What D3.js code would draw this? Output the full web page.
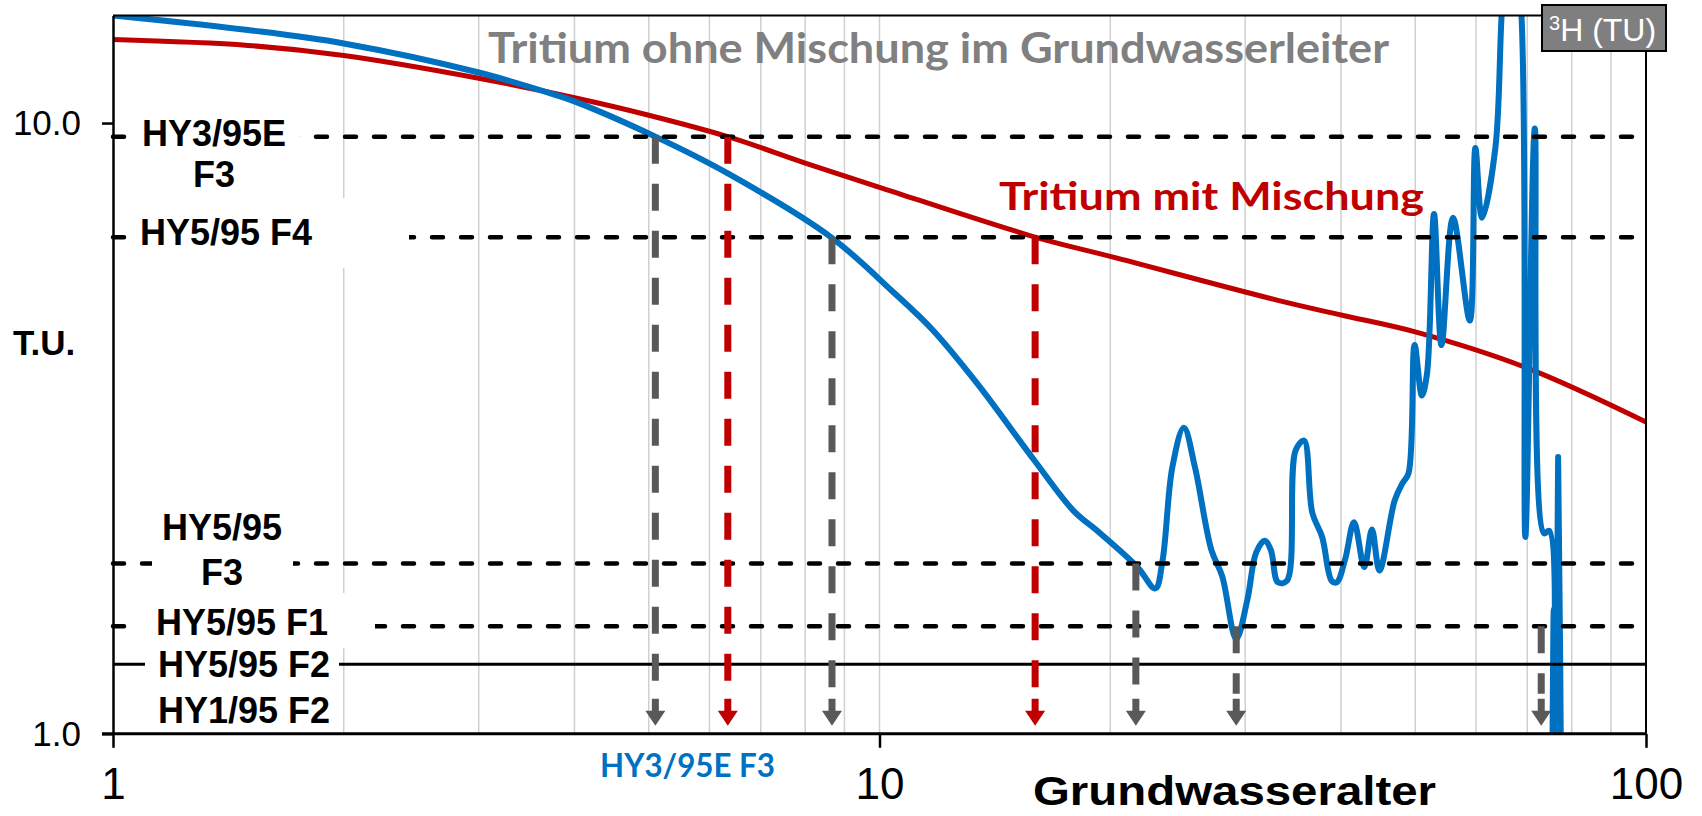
<!DOCTYPE html>
<html>
<head>
<meta charset="utf-8">
<script src="https://cdn.jsdelivr.net/npm/d3@7"></script>
<style>
  body { margin: 0; background: #fff; }
  svg text { font-family: "Liberation Sans", Arial, sans-serif; }
</style>
</head>
<body>
<div id="chart"></div>
<script>
// Tritium ohne Mischung im Grundwasserleiter (blue)
var ohneAge = [1, 1.5, 2, 3, 3.75, 4, 5.1, 6.34, 8.65, 10.4, 11.7, 13.4, 15.9, 17.9, 19.4,
  21.7, 22.9, 23.4, 24.1, 24.95, 25.8, 27.1, 28.0, 29.2, 30.2, 31.0, 31.8, 32.4, 33.1, 34.0,
  34.9, 35.8, 36.7, 37.8, 38.9, 39.5, 40.5, 41.6, 42.9, 43.9, 44.9, 47.0, 48.1, 49.0, 49.9,
  51.0, 51.8, 52.9, 54.1, 56.0, 58.9, 59.9, 61.1, 63.6, 64.9, 66.5, 68.7, 69.6, 71.6, 73.6,
  74.8, 75.3, 75.8, 76.2, 76.8, 77.6];
var ohneTU = [15.0, 14.2, 13.5, 12.1, 11.15, 10.85, 9.5, 8.27, 6.5, 5.3, 4.6, 3.75, 2.81, 2.32, 2.13,
  1.875, 1.73, 1.92, 2.73, 3.17, 2.73, 2.0, 1.81, 1.43, 1.66, 1.98, 2.07, 2.0, 1.77, 1.78,
  2.91, 3.02, 2.30, 2.10, 1.78, 1.77, 1.93, 2.22, 1.875, 2.16, 1.85, 2.41, 2.57, 2.67, 4.33,
  3.58, 3.89, 7.1, 4.33, 7.0, 4.75, 9.1, 7.0, 9.1, 15.5, 22, 15.5, 2.10, 9.8, 2.13,
  2.15, 0.7, 1.6, 0.7, 2.84, 0.6];

// Tritium mit Mischung (red)
var mitAge = [1, 1.5, 2, 3, 4, 5, 6.34, 8, 10, 16, 20, 33, 40, 50, 70, 100];
var mitTU = [13.7, 13.4, 12.9, 11.84, 11.0, 10.3, 9.5, 8.6, 7.85, 6.5, 6.05, 5.13, 4.85, 4.55, 3.97, 3.24];

var ageTicks = [1, 10, 100];
var tuTicks = [1, 10];

// Proben (horizontal lines)
var probeNames = ["HY3/95E F3", "HY5/95 F4", "HY5/95 F3", "HY5/95 F1", "HY5/95 F2", "HY1/95 F2"];
var probeTU = [9.5, 6.5, 1.9, 1.5, 1.3, 1.0];
var probeSolid = [false, false, false, false, true, false];

// Ablese-Pfeile
var arrowAge = [5.1, 6.34, 8.67, 15.96, 21.6, 29.2, 73.0];
var arrowTU = [9.5, 9.5, 6.5, 6.5, 1.9, 1.5, 1.5];
var arrowModel = ["ohne", "mit", "ohne", "mit", "ohne", "ohne", "ohne"];

var width = 1702, height = 816;
var plotL = 113, plotR = 1646, plotT = 15.5, plotB = 733.8;

var blue = "#0070c0", red = "#c00000", grey = "#595959";

var svg = d3.select("#chart").append("svg")
  .attr("width", width).attr("height", height);

var x = d3.scaleLog().domain([1, 100]).range([plotL, plotR]);
var y = d3.scaleLog().domain([1, 15]).range([plotB, plotT]);

svg.append("clipPath").attr("id", "plot")
  .append("rect").attr("x", plotL).attr("y", plotT)
  .attr("width", plotR - plotL).attr("height", plotB - plotT);

// vertical grid
var grid = x.ticks().filter(function(d) { return d > 1 && d < 100; });
svg.append("g").selectAll("line").data(grid).enter().append("line")
  .attr("x1", function(d) { return x(d); }).attr("x2", function(d) { return x(d); })
  .attr("y1", plotT).attr("y2", plotB)
  .attr("stroke", "#d0d0d0").attr("stroke-width", 1.5);

// curves
var line = d3.line()
  .x(function(d) { return x(d[0]); })
  .y(function(d) { return y(d[1]); })
  .curve(d3.curveCatmullRom.alpha(0.5));

var curves = svg.append("g").attr("clip-path", "url(#plot)");
curves.append("path")
  .datum(d3.zip(mitAge, mitTU))
  .attr("d", line).attr("fill", "none")
  .attr("stroke", red).attr("stroke-width", 5);
curves.append("path")
  .datum(d3.zip(ohneAge, ohneTU))
  .attr("d", line).attr("fill", "none")
  .attr("stroke", blue).attr("stroke-width", 6).attr("stroke-linejoin", "round");

// horizontal probe lines
var probes = d3.range(probeNames.length).filter(function(i) { return probeTU[i] > 1; });
svg.append("g").selectAll("line").data(probes).enter().append("line")
  .attr("x1", plotL).attr("x2", function(i) { return probeSolid[i] ? plotR : plotR - 5; })
  .attr("y1", function(i) { return y(probeTU[i]); })
  .attr("y2", function(i) { return y(probeTU[i]); })
  .attr("stroke", "#000")
  .attr("stroke-width", function(i) { return probeSolid[i] ? 3 : 4.5; })
  .attr("stroke-linecap", function(i) { return probeSolid[i] ? "butt" : "round"; })
  .attr("stroke-dasharray", function(i) { return probeSolid[i] ? null : "11,18"; });

// arrows down to the age axis
var arrows = svg.append("g");
d3.range(arrowAge.length).forEach(function(i) {
  var c = arrowModel[i] == "mit" ? red : grey;
  var ax = x(arrowAge[i]);
  var tip = y(1) - 8;
  arrows.append("line")
    .attr("x1", ax).attr("x2", ax)
    .attr("y1", y(arrowTU[i])).attr("y2", tip - 32)
    .attr("stroke", c).attr("stroke-width", 7)
    .attr("stroke-dasharray", "27,20");
  arrows.append("path")
    .attr("d", "M" + (ax - 3.5) + "," + (tip - 27) + "h7v12h6.5l-10,15l-10,-15h6.5z")
    .attr("fill", c);
});

// label boxes (white text boxes over the lines)
var labelLayout = [
  {lines: ["HY3/95E", "F3"], cx: 214, base: [146, 187], box: [128, 103, 300, 198]},
  {lines: ["HY5/95 F4"], cx: 226, base: [245], box: [128, 198, 409, 268]},
  {lines: ["HY5/95", "F3"], cx: 222, base: [540, 585], box: [152, 505, 293, 593]},
  {lines: ["HY5/95 F1"], cx: 242, base: [635], box: [128, 593, 375, 648]},
  {lines: ["HY5/95 F2"], cx: 244, base: [677], box: [145, 648, 339, 690]},
  {lines: ["HY1/95 F2"], cx: 244, base: [723], box: [145, 690, 339, 731]}
];
var labels = svg.append("g");
labelLayout.forEach(function(l, i) {
  labels.append("rect")
    .attr("x", l.box[0]).attr("y", l.box[1])
    .attr("width", l.box[2] - l.box[0]).attr("height", l.box[3] - l.box[1])
    .attr("fill", "#fff");
  l.lines.forEach(function(t, k) {
    labels.append("text")
      .attr("x", l.cx).attr("y", l.base[k])
      .attr("text-anchor", "middle")
      .attr("font-size", 36).attr("font-weight", "bold")
      .attr("fill", "#000")
      .text(t);
  });
});

// axes
var xAxis = d3.axisBottom(x).tickValues(ageTicks).tickSize(14).tickSizeOuter(0)
  .tickFormat(d3.format("d")).tickPadding(20);
var yAxis = d3.axisLeft(y).tickValues(tuTicks).tickSize(11).tickSizeOuter(0)
  .tickFormat(d3.format(".1f")).tickPadding(21);

var gx = svg.append("g").attr("transform", "translate(0," + plotB + ")").call(xAxis);
gx.select(".domain").attr("stroke-width", 3).attr("d", "M" + (plotL - 11) + ",0H" + plotR);
gx.selectAll(".tick line").attr("stroke-width", 2.5);
gx.selectAll(".tick text").attr("font-size", 44).attr("fill", "#000")
  .attr("font-family", "Liberation Sans, Arial, sans-serif");

var gy = svg.append("g").attr("transform", "translate(" + plotL + ",0)").call(yAxis);
gy.select(".domain").attr("stroke-width", 2.5);
gy.selectAll(".tick line").attr("stroke-width", 2.5);
gy.selectAll(".tick text").attr("font-size", 35).attr("fill", "#000")
  .attr("font-family", "Liberation Sans, Arial, sans-serif");

// top and right frame
svg.append("path")
  .attr("d", "M" + plotL + "," + plotT + "H" + plotR + "V" + plotB)
  .attr("fill", "none").attr("stroke", "#000").attr("stroke-width", 2);

// titles
svg.append("text")
  .attr("x", 488).attr("y", 63)
  .attr("textLength", 901).attr("lengthAdjust", "spacingAndGlyphs")
  .style("font-family", "Lato, sans-serif").attr("font-size", 42).attr("font-weight", "bold")
  .attr("fill", "#808080")
  .text("Tritium ohne Mischung im Grundwasserleiter");

svg.append("text")
  .attr("x", 999).attr("y", 210)
  .attr("textLength", 425).attr("lengthAdjust", "spacingAndGlyphs")
  .style("font-family", "Lato, sans-serif").attr("font-size", 39).attr("font-weight", "bold")
  .attr("fill", red)
  .text("Tritium mit Mischung");

svg.append("text")
  .attr("x", 600).attr("y", 777)
  .attr("textLength", 175).attr("lengthAdjust", "spacingAndGlyphs")
  .style("font-family", "Lato, sans-serif").attr("font-size", 33).attr("font-weight", "bold")
  .attr("fill", blue)
  .text("HY3/95E F3");

svg.append("text")
  .attr("x", 13).attr("y", 355)
  .attr("font-size", 35).attr("font-weight", "bold")
  .text("T.U.");

svg.append("text")
  .attr("x", 1033).attr("y", 805)
  .attr("textLength", 403).attr("lengthAdjust", "spacingAndGlyphs")
  .attr("font-size", 41).attr("font-weight", "bold")
  .text("Grundwasseralter");

// 3H (TU) box
svg.append("rect")
  .attr("x", 1542).attr("y", 5).attr("width", 124).attr("height", 46)
  .attr("fill", "#7f7f7f").attr("stroke", "#000").attr("stroke-width", 2);
var unit = svg.append("text")
  .attr("x", 1549).attr("y", 41)
  .attr("font-size", 32).attr("fill", "#fff");
unit.append("tspan").attr("font-size", 20).attr("dy", -11).text("3");
unit.append("tspan").attr("dy", 11).text("H (TU)");
</script>
</body>
</html>
